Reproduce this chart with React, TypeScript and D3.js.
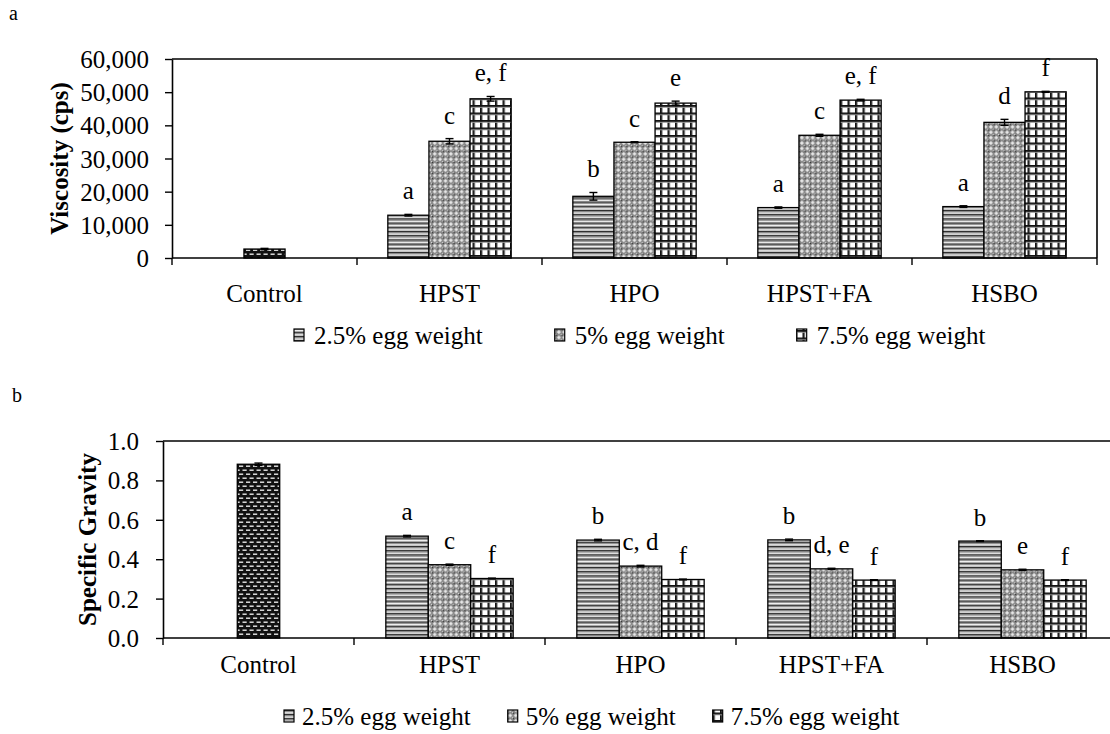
import React, { useEffect, useRef } from "react";
import * as d3 from "d3";

// ---------- data ----------
const categories = ["Control", "HPST", "HPO", "HPST+FA", "HSBO"];
const treatments = ["HPST", "HPO", "HPST+FA", "HSBO"];
const seriesNames = ["2.5% egg weight", "5% egg weight", "7.5% egg weight"];

// Panel a: viscosity (cps)
const viscControl = [2700];
const viscControlErr = [200];
const visc25 = [12900, 18600, 15200, 15500];
const visc5 = [35200, 34900, 37000, 40900];
const visc75 = [48000, 46700, 47600, 50100];
const visc25Err = [250, 1150, 200, 250];
const visc5Err = [800, 150, 300, 900];
const visc75Err = [700, 600, 250, 150];
const visc25Lbl = ["a", "b", "a", "a"];
const visc5Lbl = ["c", "c", "c", "d"];
const visc75Lbl = ["e, f", "e", "e, f", "f"];
const viscTicks = [0, 10000, 20000, 30000, 40000, 50000, 60000];

// Panel b: specific gravity
const sgControl = [0.882];
const sgControlErr = [0.006];
const sg25 = [0.517, 0.497, 0.498, 0.492];
const sg5 = [0.372, 0.365, 0.351, 0.346];
const sg75 = [0.302, 0.297, 0.294, 0.294];
const sg25Err = [0.004, 0.004, 0.004, 0.002];
const sg5Err = [0.003, 0.004, 0.003, 0.003];
const sg75Err = [0.002, 0.002, 0.002, 0.002];
const sg25Lbl = ["a", "b", "b", "b"];
const sg5Lbl = ["c", "c, d", "d, e", "e"];
const sg75Lbl = ["f", "f", "f", "f"];
const sgTicks = [0, 0.2, 0.4, 0.6, 0.8, 1.0];

const FONT = "'Liberation Serif', 'Times New Roman', serif";
const FS = 25;

export default function App() {
  const ref = useRef<SVGSVGElement | null>(null);

  useEffect(() => {
    const svg = d3.select(ref.current!);
    svg.selectAll("*").remove();

    // ---------- patterns ----------
    const defs = svg.append("defs");
    const p25 = defs.append("pattern").attr("id", "p25").attr("patternUnits", "userSpaceOnUse").attr("width", 4).attr("height", 4.2);
    p25.append("rect").attr("width", 4).attr("height", 4.2).attr("fill", "#fff");
    p25.append("rect").attr("y", 0).attr("width", 4).attr("height", 1.3).attr("fill", "#262626");
    p25.append("rect").attr("y", 1.3).attr("width", 4).attr("height", 1).attr("fill", "#7a7a7a");
    p25.append("rect").attr("y", 3.2).attr("width", 4).attr("height", 1).attr("fill", "#c0c0c0");

    const p5 = defs.append("pattern").attr("id", "p5").attr("patternUnits", "userSpaceOnUse").attr("width", 5.4).attr("height", 5.4);
    p5.append("rect").attr("width", 5.4).attr("height", 5.4).attr("fill", "#858585");
    p5.append("rect").attr("x", 2.2).attr("y", 0.8).attr("width", 1).attr("height", 3.8).attr("fill", "#fff");
    p5.append("rect").attr("x", 0.8).attr("y", 2.2).attr("width", 3.8).attr("height", 1).attr("fill", "#fff");
    p5.append("rect").attr("x", 0).attr("y", 0).attr("width", 1.1).attr("height", 1.1).attr("fill", "#333");
    p5.append("rect").attr("x", 4.4).attr("y", 4.4).attr("width", 1).attr("height", 1).attr("fill", "#dcdcdc");

    const p75 = defs.append("pattern").attr("id", "p75").attr("patternUnits", "userSpaceOnUse").attr("width", 7.5).attr("height", 7.5);
    p75.append("rect").attr("width", 7.5).attr("height", 7.5).attr("fill", "#fff");
    p75.append("rect").attr("x", 0).attr("width", 1.8).attr("height", 7.5).attr("fill", "#111");
    p75.append("rect").attr("x", 1.8).attr("width", 1).attr("height", 7.5).attr("fill", "#999");
    p75.append("rect").attr("y", 0).attr("width", 7.5).attr("height", 1.8).attr("fill", "#111");
    p75.append("rect").attr("y", 1.8).attr("width", 7.5).attr("height", 1).attr("fill", "#999");

    const pc = defs.append("pattern").attr("id", "pc").attr("patternUnits", "userSpaceOnUse").attr("width", 7).attr("height", 8);
    pc.append("rect").attr("width", 7).attr("height", 8).attr("fill", "#111");
    pc.append("rect").attr("x", 1).attr("y", 1.5).attr("width", 4.2).attr("height", 1.4).attr("fill", "#e8e8e8");
    pc.append("rect").attr("x", 4.5).attr("y", 5.5).attr("width", 2.5).attr("height", 1.4).attr("fill", "#e8e8e8");
    pc.append("rect").attr("x", 0).attr("y", 5.5).attr("width", 1.7).attr("height", 1.4).attr("fill", "#e8e8e8");

    const seriesFill = ["url(#p25)", "url(#p5)", "url(#p75)"];

    type Panel = {
      left: number; right: number; top: number; bottom: number; boxRight: boolean;
      max: number; ticks: number[]; fmt: (v: number) => string;
      control: number[]; controlErr: number[];
      series: number[][]; errs: number[][]; lbls: string[][];
      title: string; titleX: number; tickPad: number;
      catBaseline: number; legendBaseline: number; legendStart: number; legendGap: number; legendText: number;
      panelLetter: string; letterX: number; letterY: number;
    };

    function drawPanel(p: Panel) {
      const g = svg.append("g");
      const x0 = d3.scaleBand<string>().domain(categories).range([p.left, p.right]).padding(0);
      const bw = x0.bandwidth();
      const x1 = d3.scaleBand<string>().domain(seriesNames).range([bw / 6, (bw * 5) / 6]).padding(0);
      const y = d3.scaleLinear().domain([0, p.max]).range([p.bottom, p.top]);

      // top / right frame
      g.append("line").attr("x1", p.left).attr("x2", p.right).attr("y1", p.top).attr("y2", p.top)
        .attr("stroke", "#000").attr("stroke-width", 1.6);
      if (p.boxRight) {
        g.append("line").attr("x1", p.right).attr("x2", p.right).attr("y1", p.top).attr("y2", p.bottom)
          .attr("stroke", "#000").attr("stroke-width", 1.6);
      }

      // bars
      const bars: { x: number; w: number; v: number; e: number; fill: string; lbl: string }[] = [];
      bars.push({
        x: x0("Control")! + x1(seriesNames[1])!, w: x1.bandwidth(),
        v: p.control[0], e: p.controlErr[0], fill: "url(#pc)", lbl: "",
      });
      treatments.forEach((c, i) => {
        seriesNames.forEach((s, j) => {
          bars.push({
            x: x0(c)! + x1(s)!, w: x1.bandwidth(), v: p.series[j][i], e: p.errs[j][i],
            fill: seriesFill[j], lbl: p.lbls[j][i],
          });
        });
      });

      g.selectAll("rect.bar").data(bars).enter().append("rect").attr("class", "bar")
        .attr("x", (d) => d.x).attr("width", (d) => d.w)
        .attr("y", (d) => y(d.v)).attr("height", (d) => y(0) - y(d.v))
        .attr("fill", (d) => d.fill).attr("stroke", "#000").attr("stroke-width", 1.3);

      // error bars
      const eb = g.selectAll("g.err").data(bars).enter().append("g").attr("class", "err")
        .attr("stroke", "#000").attr("stroke-width", 1.4);
      eb.append("line").attr("x1", (d) => d.x + d.w / 2).attr("x2", (d) => d.x + d.w / 2)
        .attr("y1", (d) => y(d.v - d.e)).attr("y2", (d) => y(d.v + d.e));
      eb.append("line").attr("x1", (d) => d.x + d.w / 2 - 4).attr("x2", (d) => d.x + d.w / 2 + 4)
        .attr("y1", (d) => y(d.v + d.e)).attr("y2", (d) => y(d.v + d.e));
      eb.append("line").attr("x1", (d) => d.x + d.w / 2 - 4).attr("x2", (d) => d.x + d.w / 2 + 4)
        .attr("y1", (d) => y(d.v - d.e)).attr("y2", (d) => y(d.v - d.e));

      // letters
      g.selectAll("text.lbl").data(bars.filter((d) => d.lbl)).enter().append("text").attr("class", "lbl")
        .attr("x", (d) => d.x + d.w / 2).attr("y", (d) => y(d.v + d.e) - 15)
        .attr("text-anchor", "middle").attr("font-family", FONT).attr("font-size", FS).text((d) => d.lbl);

      // y axis
      const ya = d3.axisLeft(y).tickValues(p.ticks).tickFormat((v) => p.fmt(v as number))
        .tickSize(7).tickSizeOuter(0).tickPadding(p.tickPad);
      const yg = g.append("g").attr("transform", `translate(${p.left},0)`).call(ya);
      yg.select(".domain").attr("stroke-width", 1.6);
      yg.selectAll(".tick line").attr("stroke-width", 1.4);
      yg.selectAll(".tick text").attr("font-family", FONT).attr("font-size", FS).attr("fill", "#000").attr("dy", "0.34em");

      // x axis line with boundary ticks
      g.append("line").attr("x1", p.left).attr("x2", p.right).attr("y1", y(0)).attr("y2", y(0))
        .attr("stroke", "#000").attr("stroke-width", 1.6);
      const bounds = categories.map((c) => x0(c)!).concat([p.right]);
      g.selectAll("line.xt").data(bounds).enter().append("line").attr("class", "xt")
        .attr("x1", (d) => d).attr("x2", (d) => d).attr("y1", y(0)).attr("y2", y(0) + 7)
        .attr("stroke", "#000").attr("stroke-width", 1.4);
      g.selectAll("text.cat").data(categories).enter().append("text").attr("class", "cat")
        .attr("x", (d) => x0(d)! + bw / 2).attr("y", p.catBaseline)
        .attr("text-anchor", "middle").attr("font-family", FONT).attr("font-size", FS).text((d) => d);

      // y title
      g.append("text").attr("transform", `translate(${p.titleX},${(p.top + p.bottom) / 2}) rotate(-90)`)
        .attr("text-anchor", "middle").attr("font-family", FONT).attr("font-weight", "bold")
        .attr("font-size", FS).text(p.title);

      // panel letter
      g.append("text").attr("x", p.letterX).attr("y", p.letterY).attr("font-family", FONT)
        .attr("font-size", 20).text(p.panelLetter);

      // legend
      let lx = p.legendStart;
      seriesNames.forEach((s, j) => {
        g.append("rect").attr("x", lx).attr("y", p.legendBaseline - 15).attr("width", 10).attr("height", 12)
          .attr("fill", seriesFill[j]).attr("stroke", "#000").attr("stroke-width", 1.2);
        const t = g.append("text").attr("x", lx + p.legendText).attr("y", p.legendBaseline)
          .attr("font-family", FONT).attr("font-size", FS).text(s);
        const tw = (t.node() as SVGTextElement).getComputedTextLength();
        lx = lx + p.legendText + tw + p.legendGap;
      });
    }

    drawPanel({
      left: 172, right: 1097, top: 59, bottom: 258, boxRight: true,
      max: 60000, ticks: viscTicks, fmt: d3.format(","),
      control: viscControl, controlErr: viscControlErr,
      series: [visc25, visc5, visc75], errs: [visc25Err, visc5Err, visc75Err],
      lbls: [visc25Lbl, visc5Lbl, visc75Lbl],
      title: "Viscosity (cps)", titleX: 68, tickPad: 16,
      catBaseline: 302, legendBaseline: 344, legendStart: 294, legendGap: 72, legendText: 20,
      panelLetter: "a", letterX: 9, letterY: 20,
    });

    drawPanel({
      left: 163, right: 1118, top: 441, bottom: 638, boxRight: false,
      max: 1.0, ticks: sgTicks, fmt: d3.format(".1f"),
      control: sgControl, controlErr: sgControlErr,
      series: [sg25, sg5, sg75], errs: [sg25Err, sg5Err, sg75Err],
      lbls: [sg25Lbl, sg5Lbl, sg75Lbl],
      title: "Specific Gravity", titleX: 96, tickPad: 17,
      catBaseline: 673, legendBaseline: 725, legendStart: 284, legendGap: 37, legendText: 18,
      panelLetter: "b", letterX: 12, letterY: 402,
    });
  }, []);

  return (
    <svg ref={ref} width={1110} height={734}
      style={{ position: "absolute", left: 0, top: 0, background: "#fff" }} />
  );
}
